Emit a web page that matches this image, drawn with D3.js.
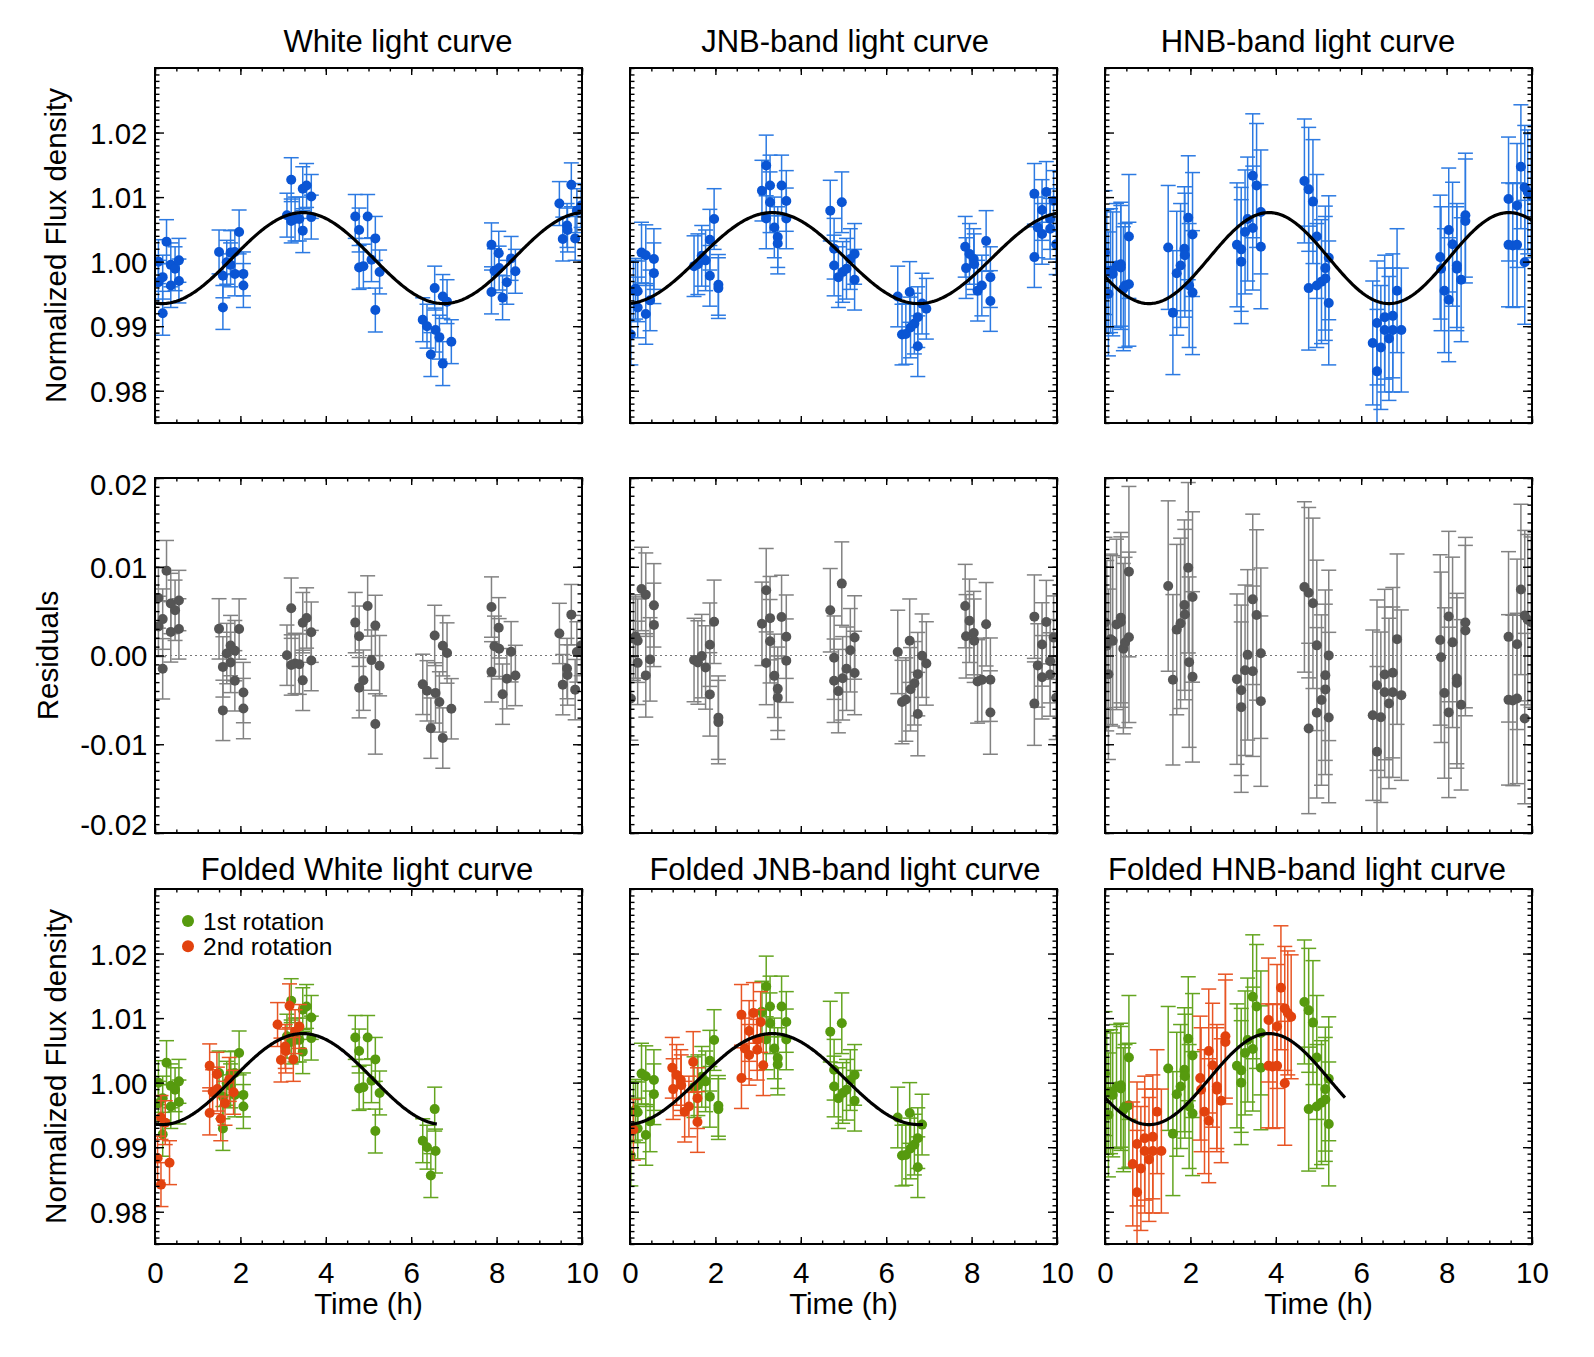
<!DOCTYPE html>
<html><head><meta charset="utf-8">
<script src="https://cdn.jsdelivr.net/npm/d3@7"></script>
<style>
body{margin:0;background:#fff}
text{font-family:"Liberation Sans",Arial,Helvetica,sans-serif;fill:#000}
</style>
</head><body>
<svg id="c" width="1594" height="1357"></svg>
<script>
// ---------------- data ----------------
const whiteTime = [0.08,0.08,0.18,0.18,0.27,0.37,0.37,0.47,0.56,0.56,
  1.50,1.59,1.59,1.68,1.77,1.77,1.87,1.87,1.97,2.07,2.07,
  3.09,3.19,3.19,3.28,3.38,3.46,3.46,3.55,3.66,3.66,
  4.69,4.78,4.78,4.88,4.98,5.07,5.16,5.16,5.26,
  6.27,6.37,6.46,6.55,6.57,6.66,6.74,6.74,6.84,6.94,
  7.88,7.88,7.95,8.05,8.06,8.14,8.24,8.34,8.44,
  9.47,9.55,9.65,9.66,9.75,9.84,9.88,9.98];
const whiteFlux = [1.0000,0.9968,0.9976,0.9920,1.0031,0.9995,0.9963,0.9989,1.0002,0.9970,
  1.0015,0.9978,0.9929,0.9999,1.0014,0.9995,1.0015,0.9981,1.0046,0.9981,0.9963,
  1.0072,1.0127,1.0063,1.0066,1.0066,1.0048,1.0113,1.0118,1.0101,1.0069,
  1.0070,1.0049,0.9991,0.9993,1.0070,1.0003,1.0036,0.9925,0.9984,
  0.9910,0.9900,0.9856,0.9959,0.9894,0.9883,0.9946,0.9842,0.9938,0.9876,
  1.0026,0.9953,0.9986,1.0013,0.9990,0.9944,0.9968,1.0005,0.9985,
  1.0090,1.0035,1.0056,1.0049,1.0119,1.0036,1.0079,1.0087];

const jnbTime = [0.02,0.08,0.13,0.18,0.18,0.27,0.37,0.37,0.47,0.56,0.56,
  1.50,1.59,1.68,1.77,1.87,1.87,1.97,2.07,2.07,
  3.09,3.19,3.19,3.28,3.28,3.38,3.46,3.46,3.55,3.66,3.66,
  4.69,4.78,4.78,4.88,4.96,4.98,5.07,5.16,5.26,5.26,
  6.27,6.37,6.46,6.55,6.57,6.66,6.74,6.74,6.84,6.94,
  7.85,7.87,7.95,8.05,8.06,8.14,8.24,8.34,8.44,8.44,
  9.47,9.47,9.55,9.65,9.65,9.75,9.84,9.84,9.92,9.98];
const jnbFlux = [0.9887,0.9955,0.9958,0.9954,0.9929,1.0014,1.0010,0.9919,0.9940,1.0004,0.9982,
  0.9993,0.9996,1.0009,1.0002,1.0034,0.9978,1.0066,0.9964,0.9959,
  1.0110,1.0149,1.0067,1.0118,1.0092,1.0053,1.0038,1.0028,1.0118,1.0094,1.0067,
  1.0079,1.0020,0.9994,0.9976,1.0092,0.9984,0.9989,1.0004,1.0012,0.9972,
  0.9946,0.9887,0.9888,0.9953,0.9898,0.9904,0.9914,0.9869,0.9935,0.9927,
  1.0023,0.9990,1.0012,1.0004,0.9996,0.9955,0.9963,1.0032,0.9976,0.9939,
  1.0105,1.0007,1.0053,1.0080,1.0043,1.0108,1.0066,1.0051,1.0094,1.0027];

const hnbTime = [0.00,0.04,0.08,0.13,0.18,0.27,0.37,0.37,0.43,0.47,0.56,0.56,
  1.48,1.59,1.68,1.77,1.86,1.87,1.95,1.97,2.05,2.05,
  3.09,3.19,3.19,3.28,3.34,3.46,3.46,3.55,3.65,3.65,
  4.67,4.77,4.77,4.87,4.96,4.96,5.07,5.16,5.16,5.24,5.24,
  6.27,6.37,6.37,6.46,6.55,6.55,6.65,6.74,6.74,6.84,6.94,
  7.85,7.87,7.95,8.05,8.05,8.14,8.24,8.24,8.34,8.44,8.44,
  9.45,9.45,9.55,9.65,9.65,9.74,9.83,9.83,9.90,9.98];
const hnbFlux = [1.0014,0.9985,0.9950,0.9986,0.9981,0.9994,0.9996,0.9991,0.9958,0.9963,1.0039,0.9965,
  1.0022,0.9921,0.9982,0.9994,1.0020,1.0010,1.0068,0.9963,1.0042,0.9952,
  1.0026,1.0019,1.0000,1.0046,1.0066,1.0052,1.0133,1.0118,1.0077,1.0023,
  1.0125,1.0112,0.9959,1.0093,1.0039,0.9963,0.9969,0.9990,0.9974,1.0006,0.9936,
  0.9874,0.9905,0.9830,0.9867,0.9914,0.9894,0.9881,0.9916,0.9894,0.9955,0.9894,
  1.0007,0.9989,0.9955,1.0049,0.9941,1.0027,0.9994,0.9989,0.9972,1.0072,1.0063,
  1.0097,1.0026,1.0025,1.0026,1.0087,1.0147,1.0115,0.9999,1.0108,1.0102];

const bandErr    = [0.0034, 0.0047, 0.0096];   // 1-sigma flux error per band
const bandPeriod = [6.60, 6.86, 5.62];         // fitted rotation period (h)
const bandTmax   = [3.46, 3.33, 3.84];         // time of maximum (h)
const modelMean  = 1.00055;
const modelAmp   = 0.00705;

const topTitles  = ["White light curve", "JNB-band light curve", "HNB-band light curve"];
const foldTitles = ["Folded White light curve", "Folded JNB-band light curve", "Folded HNB-band light curve"];
const xTicks     = [0, 2, 4, 6, 8, 10];
const fluxTicks  = [0.98, 0.99, 1.00, 1.01, 1.02];
const resTicks   = [-0.02, -0.01, 0.00, 0.01, 0.02];
const legendLabels = ["1st rotation", "2nd rotation"];
const xLabel = "Time (h)";
const fluxLabel = "Normalized Flux density";
const resLabel = "Residuals";

// ---------------- layout ----------------
const svg = d3.select("#c");
const W = 427, H = 355;
const colX = [155, 630, 1105];
const rowY = [68, 478, 889];
const topTitleX = [398, 845, 1308];
const foldTitleX = [367, 845, 1307];

const C = {
  blueDot: "#0a55d4", blueBar: "#2c7ae2",
  grayDot: "#555555", grayBar: "#828282",
  greenDot: "#569a0e", greenBar: "#64a520",
  redDot: "#e2420e", redBar: "#e85524"
};

const x = d3.scaleLinear().domain([0, 10]).range([0, W]);
const yFlux = d3.scaleLinear().domain([0.975, 1.03]).range([H, 0]);
const yRes = d3.scaleLinear().domain([-0.02, 0.02]).range([H, 0]);

const times = [whiteTime, jnbTime, hnbTime];
const fluxes = [whiteFlux, jnbFlux, hnbFlux];

function model(b, t) {
  return modelMean + modelAmp * Math.cos(2 * Math.PI * (t - bandTmax[b]) / bandPeriod[b]);
}

const FONT = "'Liberation Sans',Arial,sans-serif";

function makePanel(r, c, y, minorY, showXLabels, yFmt, yTickVals) {
  const g = svg.append("g").attr("transform", `translate(${colX[c]},${rowY[r]})`);
  const id = `clip${r}${c}`;
  g.append("clipPath").attr("id", id).append("rect").attr("width", W).attr("height", H);
  const content = g.append("g").attr("clip-path", `url(#${id})`);
  const axes = g.append("g");
  const xMinor = d3.range(0, 10.001, 0.5);
  const style = sel => {
    sel.select(".domain").remove();
    sel.selectAll(".tick line").attr("stroke", "#000").attr("stroke-width", 1.4);
  };
  // bottom
  axes.append("g").attr("transform", `translate(0,${H})`)
    .call(d3.axisBottom(x).tickValues(xMinor).tickSize(-3.5).tickFormat("")).call(style);
  const bx = axes.append("g").attr("transform", `translate(0,${H})`)
    .call(d3.axisBottom(x).tickValues(xTicks).tickSize(-7)
      .tickFormat(showXLabels ? d3.format("d") : "")).call(style);
  bx.selectAll("text").attr("y", 38.5).attr("dy", null)
    .style("font-size", "29.5px").style("font-family", FONT);
  // top
  axes.append("g").call(d3.axisTop(x).tickValues(xMinor).tickSize(-3.5).tickFormat("")).call(style);
  axes.append("g").call(d3.axisTop(x).tickValues(xTicks).tickSize(-7).tickFormat("")).call(style);
  // left
  axes.append("g").call(d3.axisLeft(y).tickValues(minorY).tickSize(-4.5).tickFormat("")).call(style);
  const ly = axes.append("g").call(d3.axisLeft(y).tickValues(yTickVals).tickSize(-9)
      .tickFormat(yFmt ? yFmt : "")).call(style);
  ly.selectAll("text").attr("x", -7.5).attr("dy", "0.355em")
    .style("font-size", "29.5px").style("font-family", FONT);
  // right
  axes.append("g").attr("transform", `translate(${W},0)`)
    .call(d3.axisRight(y).tickValues(minorY).tickSize(-4.5).tickFormat("")).call(style);
  axes.append("g").attr("transform", `translate(${W},0)`)
    .call(d3.axisRight(y).tickValues(yTickVals).tickSize(-9).tickFormat("")).call(style);
  g.append("rect").attr("width", W).attr("height", H)
    .attr("fill", "none").attr("stroke", "#000").attr("stroke-width", 2);
  return { g, content, ly };
}

function drawErrBars(sel, pts, y, barColor) {
  const cap = 7.5;
  const eb = sel.append("g").attr("stroke", barColor).attr("stroke-width", 1.5).attr("fill", "none");
  pts.forEach(p => {
    const px = x(p.t), y0 = y(p.v - p.e), y1 = y(p.v + p.e);
    eb.append("line").attr("x1", px).attr("x2", px).attr("y1", y0).attr("y2", y1);
    eb.append("line").attr("x1", px - cap).attr("x2", px + cap).attr("y1", y0).attr("y2", y0);
    eb.append("line").attr("x1", px - cap).attr("x2", px + cap).attr("y1", y1).attr("y2", y1);
  });
}
function drawDots(sel, pts, y, color) {
  sel.append("g").selectAll("circle").data(pts).join("circle")
    .attr("cx", p => x(p.t)).attr("cy", p => y(p.v)).attr("r", 5).attr("fill", color);
}
function drawModel(sel, b, t0, t1) {
  const ts = d3.range(t0, t1 + 1e-9, (t1 - t0) / 300);
  sel.append("path").datum(ts)
    .attr("d", d3.line().x(t => x(t)).y(t => yFlux(model(b, t))))
    .attr("fill", "none").attr("stroke", "#000").attr("stroke-width", 3.2);
}

const fluxMinor = d3.range(975, 1031).map(v => v / 1000);
const resMinor = d3.range(-20, 21).map(v => v / 1000);
const fFmt = v => d3.format(".2f")(v).replace("\u2212", "-");

for (let b = 0; b < 3; b++) {
  const pts = times[b].map((t, i) => ({ t, v: fluxes[b][i], e: bandErr[b] }));

  // ---- row 1: light curves ----
  const p1 = makePanel(0, b, yFlux, fluxMinor, false, b === 0 ? fFmt : null, fluxTicks);
  drawErrBars(p1.content, pts, yFlux, C.blueBar);
  drawDots(p1.content, pts, yFlux, C.blueDot);
  drawModel(p1.content, b, 0, 10);
  svg.append("text").attr("x", topTitleX[b]).attr("y", 52).attr("text-anchor", "middle")
    .style("font-size", "31px").text(topTitles[b]);

  // ---- row 2: residuals ----
  const res = pts.map(p => ({ t: p.t, v: p.v - model(b, p.t), e: p.e }));
  const p2 = makePanel(1, b, yRes, resMinor, false, b === 0 ? fFmt : null, resTicks);
  if (b === 0) {
    p2.ly.selectAll(".tick text").attr("transform", d => d === 0.02 ? "translate(0,6)" : d === -0.02 ? "translate(0,-9)" : null);
  }
  p2.content.append("line").attr("x1", 0).attr("x2", W).attr("y1", yRes(0)).attr("y2", yRes(0))
    .attr("stroke", "#777").attr("stroke-width", 1.1).attr("stroke-dasharray", "2,3");
  drawErrBars(p2.content, res, yRes, C.grayBar);
  drawDots(p2.content, res, yRes, C.grayDot);

  // ---- row 3: folded ----
  const P = bandPeriod[b];
  const rot1 = pts.filter(p => p.t < P).map(p => ({ t: p.t, v: p.v, e: p.e }));
  const rot2 = pts.filter(p => p.t >= P).map(p => ({ t: p.t - P, v: p.v, e: p.e }));
  const p3 = makePanel(2, b, yFlux, fluxMinor, true, b === 0 ? fFmt : null, fluxTicks);
  drawErrBars(p3.content, rot1, yFlux, C.greenBar);
  drawDots(p3.content, rot1, yFlux, C.greenDot);
  drawErrBars(p3.content, rot2, yFlux, C.redBar);
  drawDots(p3.content, rot2, yFlux, C.redDot);
  drawModel(p3.content, b, 0, P);
  svg.append("text").attr("x", foldTitleX[b]).attr("y", 880).attr("text-anchor", "middle")
    .style("font-size", "31px").text(foldTitles[b]);

  // x label
  svg.append("text").attr("x", colX[b] + W / 2).attr("y", 1314).attr("text-anchor", "middle")
    .style("font-size", "29.5px").text(xLabel);
}

// y labels
[[0, fluxLabel, 65.5], [1, resLabel, 58], [2, fluxLabel, 65.5]].forEach(([r, txt, bx]) => {
  svg.append("text").attr("transform", `translate(${bx},${rowY[r] + H / 2}) rotate(-90)`)
    .attr("text-anchor", "middle").style("font-size", "29.5px").text(txt);
});

// legend
const leg = svg.append("g");
const legColors = [C.greenDot, C.redDot];
legendLabels.forEach((lab, i) => {
  leg.append("circle").attr("cx", 188).attr("cy", 921 + i * 25.3).attr("r", 6).attr("fill", legColors[i]);
  leg.append("text").attr("x", 203).attr("y", 929.5 + i * 25.3).style("font-size", "24.5px").text(lab);
});
</script>
</body></html>
